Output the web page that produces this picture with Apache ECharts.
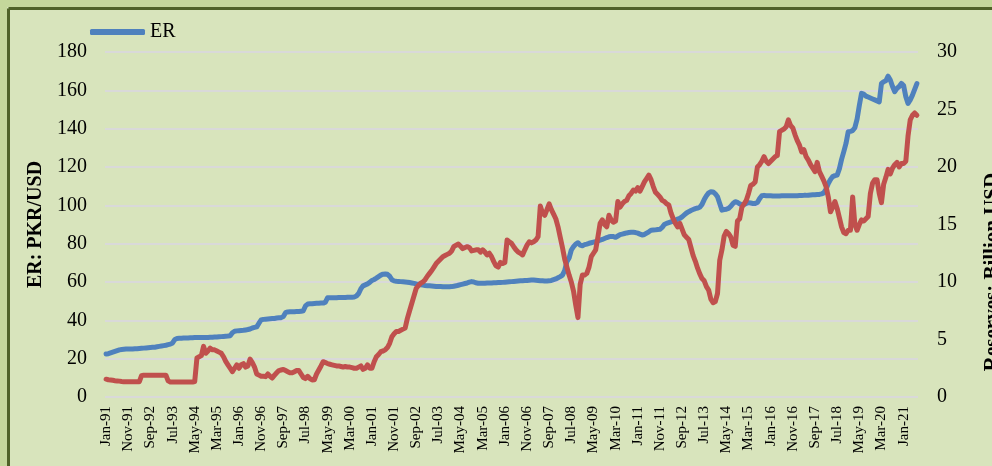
<!DOCTYPE html>
<html>
<head>
<meta charset="utf-8">
<script src="https://cdn.jsdelivr.net/npm/echarts@6/dist/echarts.min.js"></script>
<style>
  html, body { margin: 0; padding: 0; background: #c4d79b; }
  #chart { width: 992px; height: 466px; }
</style>
</head>
<body>
<div id="chart"></div>
<script>
// monthly data, Jan-91 .. Jul-21
const er1990s = [
  22.4, 22.6, 23.0, 23.4, 23.8, 24.2, 24.6, 24.8, 24.9, 25.0, 25.0, 25.0, // 1991
  25.1, 25.2, 25.2, 25.3, 25.4, 25.5, 25.6, 25.7, 25.8, 25.9, 26.0, 26.2, // 1992
  26.4, 26.6, 26.8, 27.0, 27.3, 27.6, 28.2, 30.0, 30.5, 30.6, 30.7, 30.8, // 1993
  30.8, 30.8, 30.9, 30.9, 31.0, 31.0, 31.0, 31.0, 31.0, 31.1, 31.1, 31.2, // 1994
  31.2, 31.3, 31.3, 31.4, 31.5, 31.6, 31.7, 31.8, 32.0, 33.5, 34.3, 34.5, // 1995
  34.6, 34.7, 34.8, 35.0, 35.2, 35.5, 36.0, 36.3, 36.6, 38.5, 40.2, 40.5, // 1996
  40.6, 40.7, 40.8, 40.9, 41.0, 41.2, 41.3, 41.4, 42.0, 44.0, 44.4, 44.5, // 1997
  44.5, 44.5, 44.6, 44.6, 44.7, 45.0, 47.5, 48.5, 48.6, 48.7, 48.8, 48.9, // 1998
  48.9, 49.0, 49.0, 49.5, 51.8, 51.8, 51.8, 51.8, 51.8, 51.9, 51.9, 51.9  // 1999
];
const er2000s = [
  51.9, 52.0, 52.0, 52.1, 52.2, 52.7, 54.0, 56.5, 58.0, 58.5, 59.0, 59.8, // 2000
  60.8, 61.3, 62.0, 62.8, 63.6, 64.1, 64.2, 64.0, 63.0, 61.2, 60.6, 60.4, // 2001
  60.3, 60.2, 60.1, 60.0, 59.9, 59.7, 59.5, 59.3, 59.0, 58.8, 58.6, 58.4, // 2002
  58.2, 58.1, 58.0, 57.9, 57.8, 57.7, 57.6, 57.6, 57.5, 57.5, 57.5, 57.5, // 2003
  57.6, 57.8, 58.0, 58.3, 58.6, 58.9, 59.2, 59.5, 59.9, 60.2, 60.0, 59.6, // 2004
  59.3, 59.3, 59.4, 59.4, 59.5, 59.5, 59.5, 59.6, 59.6, 59.7, 59.7, 59.8, // 2005
  59.9, 60.0, 60.1, 60.2, 60.3, 60.4, 60.5, 60.6, 60.7, 60.8, 60.8, 60.9, // 2006
  61.0, 61.0, 60.9, 60.8, 60.7, 60.6, 60.5, 60.5, 60.6, 60.8, 61.2, 61.6, // 2007
  62.2, 62.8, 63.6, 66.0, 70.6, 72.5, 76.7, 78.5, 79.8, 80.5, 79.2, 78.9, // 2008
  79.5, 79.8, 80.2, 80.5, 80.8, 81.1, 81.4, 81.8, 82.2, 82.7, 83.2, 83.6  // 2009
];
const er2010s = [
  83.8, 83.7, 83.3, 84.0, 84.7, 85.0, 85.3, 85.6, 85.8, 85.9, 85.9, 85.8, // 2010
  85.5, 85.0, 84.5, 84.8, 85.5, 86.2, 87.0, 87.1, 87.2, 87.4, 87.5, 88.5, // 2011
  90.0, 90.6, 91.0, 91.4, 91.8, 92.3, 92.8, 93.2, 94.0, 95.0, 96.0, 96.7, // 2012
  97.3, 97.8, 98.3, 98.6, 99.0, 100.5, 103.0, 105.0, 106.5, 107.1, 107.0, 106.0, // 2013
  104.5, 101.0, 97.5, 97.8, 98.0, 98.4, 99.5, 101.0, 101.9, 101.5, 100.8, 100.2, // 2014
  100.5, 101.0, 101.4, 101.2, 101.0, 101.0, 101.5, 103.5, 105.0, 105.2, 105.0, 105.0, // 2015
  105.0, 104.9, 104.9, 104.9, 104.9, 105.0, 105.0, 105.0, 105.0, 105.0, 105.0, 105.0, // 2016
  105.0, 105.1, 105.1, 105.2, 105.2, 105.3, 105.4, 105.5, 105.5, 105.6, 105.7, 106.0, // 2017
  106.5, 108.5, 111.4, 113.5, 115.0, 115.5, 115.8, 119.0, 124.0, 128.0, 132.3, 138.4, // 2018
  138.6, 139.0, 140.5, 145.0, 152.0, 158.4, 158.0, 157.0, 156.5, 156.0, 155.5, 155.0  // 2019
];
const er2020s = [
  154.5, 154.0, 163.6, 164.5, 165.0, 167.4, 165.4, 162.0, 159.3, 161.0, 162.0, 163.6, // 2020
  162.5, 156.7, 153.2, 155.0, 157.5, 160.5, 163.5 // 2021
];

const res1990s = [
  1.55, 1.5, 1.48, 1.45, 1.42, 1.4, 1.38, 1.35, 1.33, 1.33, 1.33, 1.33,
  1.33, 1.33, 1.33, 1.33, 1.85, 1.9, 1.9, 1.9, 1.9, 1.9, 1.9, 1.9,
  1.9, 1.9, 1.9, 1.9, 1.4, 1.3, 1.3, 1.3, 1.3, 1.3, 1.3, 1.3,
  1.3, 1.3, 1.3, 1.3, 1.35, 3.4, 3.5, 3.6, 4.4, 3.8, 4.0, 4.25,
  4.1, 4.1, 4.0, 3.9, 3.8, 3.5, 3.1, 2.8, 2.5, 2.2, 2.5, 2.8,
  2.5, 2.8, 2.9, 2.6, 2.7, 3.3, 3.0, 2.6, 2.0, 1.9, 1.8, 1.8,
  1.77, 2.0, 1.8, 1.65, 1.9, 2.1, 2.3, 2.35, 2.4, 2.3, 2.2, 2.1,
  2.1, 2.2, 2.3, 2.3, 2.0, 1.7, 1.6, 1.8, 1.6, 1.48, 1.5, 2.0,
  2.35, 2.7, 3.07, 3.0, 2.9, 2.85, 2.8, 2.75, 2.7, 2.7, 2.65, 2.6
];
const res2000s = [
  2.65, 2.6, 2.6, 2.55, 2.5, 2.5, 2.6, 2.7, 2.4, 2.5, 2.8, 2.5,
  2.5, 3.07, 3.5, 3.7, 3.94, 4.0, 4.1, 4.3, 4.67, 5.24, 5.5, 5.7,
  5.7, 5.8, 5.9, 6.0, 6.84, 7.5, 8.15, 8.8, 9.45, 9.7, 9.9, 10.0,
  10.2, 10.5, 10.75, 11.0, 11.3, 11.6, 11.8, 12.0, 12.2, 12.3, 12.4, 12.5,
  12.7, 13.1, 13.2, 13.3, 13.1, 12.9, 13.0, 13.07, 13.0, 12.7, 12.75, 12.8,
  12.8, 12.6, 12.8, 12.6, 12.35, 12.5, 12.2, 11.77, 11.4, 11.3, 11.7, 11.6,
  11.7, 13.65, 13.5, 13.36, 13.07, 12.8, 12.6, 12.5, 12.35, 12.8, 13.2, 13.5,
  13.4, 13.5, 13.65, 13.94, 16.6, 16.0, 15.8, 16.3, 16.8, 16.3, 15.9, 15.5,
  14.8, 13.9, 13.0, 12.0, 11.3, 10.6, 10.0, 9.2, 8.0, 6.9, 9.8, 10.6,
  10.6, 10.75, 11.3, 12.2, 12.5, 12.8, 13.9, 15.1, 15.4, 15.0, 14.8, 15.8
];
const res2010s = [
  15.4, 15.2, 15.3, 17.0, 16.5, 16.8, 17.0, 17.1, 17.5, 17.7, 18.0, 17.9,
  18.2, 17.9, 18.3, 18.7, 19.0, 19.3, 18.9, 18.3, 17.8, 17.6, 17.4, 17.1,
  17.0, 16.8, 16.7, 16.0, 15.5, 15.1, 14.8, 15.1, 14.6, 14.1, 13.9, 13.7,
  13.0, 12.3, 11.8, 11.2, 10.7, 10.3, 10.1, 9.6, 9.3, 8.5, 8.2, 8.3,
  9.0, 11.9, 12.8, 14.0, 14.4, 14.2, 13.9, 13.2, 13.1, 15.3, 15.5, 16.5,
  16.8, 17.1, 17.7, 18.4, 18.5, 18.7, 20.0, 20.2, 20.5, 20.9, 20.5, 20.3,
  20.5, 20.7, 20.9, 21.0, 23.07, 23.2, 23.3, 23.5, 24.1, 23.6, 23.4, 22.8,
  22.3, 21.9, 21.3, 21.5, 20.9, 20.6, 20.2, 19.9, 19.6, 20.4, 19.6, 19.2,
  18.8, 18.3, 17.4, 16.1, 16.5, 17.0, 16.4, 15.6, 14.8, 14.3, 14.2, 14.5,
  14.5, 17.4, 15.0, 14.5, 15.0, 15.4, 15.3, 15.5, 15.7, 17.7, 18.6, 18.9
];
const res2020s = [
  18.9, 17.7, 16.9, 18.5, 19.1, 19.8, 19.4, 19.9, 20.2, 20.4, 20.0, 20.3,
  20.3, 20.5, 22.7, 24.1, 24.5, 24.7, 24.5
];

const monthNames = ['Jan', 'Feb', 'Mar', 'Apr', 'May', 'Jun', 'Jul', 'Aug', 'Sep', 'Oct', 'Nov', 'Dec'];
const firstYear = 1991;

const erValues = er1990s.concat(er2000s, er2010s, er2020s);
const reserveValues = res1990s.concat(res2000s, res2010s, res2020s);

// Jan-91, Feb-91, ... one label per month
const months = erValues.map((v, i) => {
  const yy = String((firstYear + Math.floor(i / 12)) % 100).padStart(2, '0');
  return monthNames[i % 12] + '-' + yy;
});

const font = 'Liberation Serif, Times New Roman, serif';
const erColor = '#4f81bd';
const resColor = '#c0504d';

const chart = echarts.init(document.getElementById('chart'));
chart.setOption({
  backgroundColor: '#d8e4bc',
  animation: false,
  grid: { left: 105, right: 74, top: 52, bottom: 69 },
  legend: {
    data: [{ name: 'ER', icon: 'roundRect' }],
    left: 85,
    top: 17,
    itemWidth: 55,
    itemHeight: 6,
    textStyle: { fontFamily: font, fontSize: 20, color: '#000' }
  },
  xAxis: {
    type: 'category',
    data: months,
    boundaryGap: true,
    axisLine: { show: false },
    axisTick: { show: false },
    axisLabel: {
      interval: 9,
      rotate: 90,
      margin: 9,
      fontFamily: font,
      fontSize: 15,
      color: '#000'
    }
  },
  yAxis: [
    {
      type: 'value',
      min: 0,
      max: 180,
      interval: 20,
      name: 'ER: PKR/USD',
      nameLocation: 'middle',
      nameRotate: 90,
      nameGap: 58,
      nameTextStyle: { fontFamily: font, fontSize: 20, fontWeight: 'bold', color: '#000' },
      axisLine: { show: false },
      axisTick: { show: false },
      axisLabel: { margin: 18, fontFamily: font, fontSize: 20, color: '#000' },
      splitLine: { lineStyle: { color: '#d9d9d9', width: 2 } }
    },
    {
      type: 'value',
      min: 0,
      max: 30,
      interval: 5,
      axisLine: { show: false },
      axisTick: { show: false },
      axisLabel: { margin: 19, fontFamily: font, fontSize: 20, color: '#000' },
      splitLine: { show: false }
    }
  ],
  graphic: [
    { type: 'rect', shape: { x: 0, y: 0, width: 7, height: 466 }, style: { fill: '#c4d79b' }, z: 100 },
    { type: 'rect', shape: { x: 0, y: 0, width: 992, height: 7 }, style: { fill: '#c4d79b' }, z: 100 },
    { type: 'line', shape: { x1: 8.5, y1: 8.5, x2: 8.5, y2: 466 }, style: { stroke: '#4f6228', lineWidth: 3 }, z: 100 },
    { type: 'line', shape: { x1: 8.5, y1: 8.5, x2: 992, y2: 8.5 }, style: { stroke: '#4f6228', lineWidth: 3 }, z: 100 },
    {
      type: 'text',
      x: 993,
      y: 272,
      rotation: Math.PI / 2,
      style: {
        text: 'Reserves: Billion USD',
        fontFamily: font,
        fontSize: 21,
        fontWeight: 'bold',
        fill: '#000',
        align: 'center',
        verticalAlign: 'middle'
      }
    }
  ],
  series: [
    {
      name: 'ER',
      type: 'line',
      yAxisIndex: 0,
      data: erValues,
      showSymbol: false,
      lineStyle: { color: erColor, width: 5, cap: 'round', join: 'round' },
      itemStyle: { color: erColor }
    },
    {
      name: 'Reserves',
      type: 'line',
      yAxisIndex: 1,
      data: reserveValues,
      showSymbol: false,
      lineStyle: { color: resColor, width: 5, cap: 'round', join: 'round' },
      itemStyle: { color: resColor }
    }
  ]
});
</script>
</body>
</html>
